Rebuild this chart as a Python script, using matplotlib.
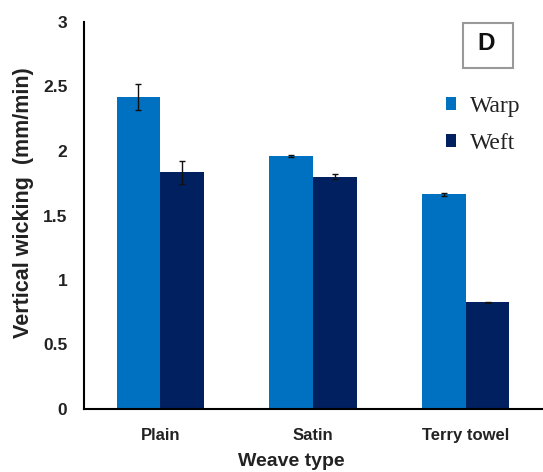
import matplotlib
matplotlib.use("Agg")
import matplotlib.pyplot as plt
from matplotlib.patches import Rectangle
import numpy as np

categories = ["Plain", "Satin", "Terry towel"]
warp = [2.42, 1.96, 1.665]
weft = [1.835, 1.80, 0.827]
warp_err = [0.10, 0.01, 0.01]
weft_err = [0.09, 0.02, 0.005]
yticks = [0, 0.5, 1, 1.5, 2, 2.5, 3]
ytick_labels = ["0", "0.5", "1", "1.5", "2", "2.5", "3"]

W, H = 543, 472
fig = plt.figure(figsize=(W/100, H/100), dpi=100)
ax = fig.add_axes([84/W, 1-409/H, 458/W, 387/H])

x = np.arange(len(categories))
w = 0.287
ax.bar(x - w/2, warp, w, color="#0070C0", label="Warp", zorder=2)
ax.bar(x + w/2, weft, w, color="#002060", label="Weft", zorder=2)
ax.errorbar(x - w/2, warp, yerr=warp_err, fmt="none", ecolor="#111111", elinewidth=1, capsize=2.5, zorder=3)
ax.errorbar(x + w/2, weft, yerr=weft_err, fmt="none", ecolor="#111111", elinewidth=1, capsize=2.5, zorder=3)

ax.set_xlim(-0.5, 2.5)
ax.set_ylim(0, 3)
ax.set_yticks(yticks)
ax.set_yticklabels(ytick_labels)
ax.set_xticks(x)
ax.set_xticklabels(categories)
for sp in ["top", "right"]:
    ax.spines[sp].set_visible(False)
for sp in ["left", "bottom"]:
    ax.spines[sp].set_linewidth(1.5)
    ax.spines[sp].set_color("black")
ax.tick_params(axis="both", length=0)
ax.tick_params(axis="y", pad=12)
ax.tick_params(axis="x", pad=14)
for lab in ax.get_xticklabels() + ax.get_yticklabels():
    lab.set_fontfamily("Liberation Sans")
    lab.set_fontweight("bold")
    lab.set_fontsize(12)
    lab.set_color("#222222")
for lab in ax.get_yticklabels():
    lab.set_fontsize(12.5)

fig.text(24/W, 1-203/H, "Vertical wicking  (mm/min)", rotation=90, ha="center", va="center",
         fontfamily="Liberation Sans", fontweight="bold", fontsize=15.5, color="#222222")
fig.text(291/W, 1-462/H, "Weave type", ha="center", va="center",
         fontfamily="Liberation Sans", fontweight="bold", fontsize=14, color="#222222")

leg = ax.legend(loc="upper left", bbox_to_anchor=(446/W, 1-96/H), bbox_transform=fig.transFigure,
                frameon=False, borderpad=0, borderaxespad=0,
                prop={"family": "Liberation Serif", "size": 17},
                handlelength=0.43, handleheight=0.43, handletextpad=0.6, labelspacing=0.68)
for t in leg.get_texts():
    t.set_color("#222222")

fig.patches.append(Rectangle((463/W, 1-68/H), 50/W, 45/H, transform=fig.transFigure,
                             facecolor="white", edgecolor="#999999", linewidth=1.5))
fig.text(486/W, 1-44/H, "D", fontfamily="Liberation Sans", fontweight="bold", fontsize=17.5,
         ha="center", va="center", color="#111111")

fig.savefig("out.png", dpi=100)
